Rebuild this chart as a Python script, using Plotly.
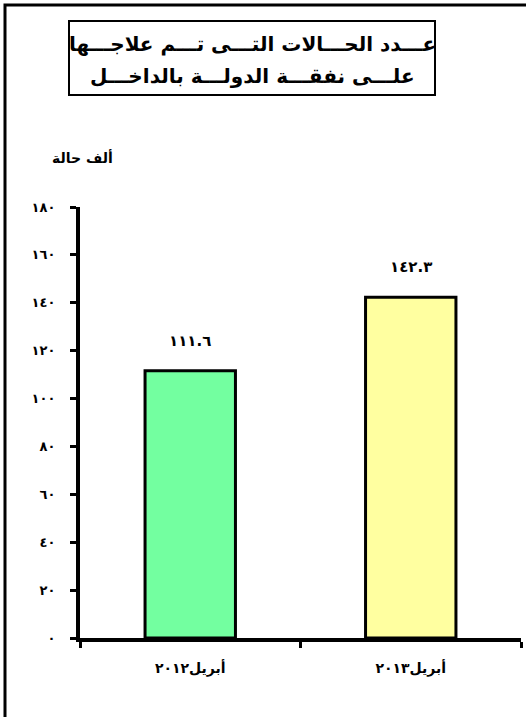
import plotly.graph_objects as go

# Data
categories = ["أبريل٢٠١٢", "أبريل٢٠١٣"]
values = [111.6, 142.3]
value_labels = ["١١١.٦", "١٤٢.٣"]
bar_colors = ["#73FFA0", "#FFFFA0"]
tick_vals = [0, 20, 40, 60, 80, 100, 120, 140, 160, 180]
tick_text = ["٠", "٢٠", "٤٠", "٦٠", "٨٠", "١٠٠", "١٢٠", "١٤٠", "١٦٠", "١٨٠"]
title_lines = ["عـــدد الحـــالات التـــى تـــم علاجـــها",
               "علـــى نفقـــة الدولـــة بالداخـــل"]
y_unit = "ألف حالة"

W, H = 526, 717
L, R, T, B = 80, 5, 207, 79
pw, ph = W - L - R, H - T - B


def px(x):
    return (x - L) / pw


def py(y):
    return (H - B - y) / ph


fig = go.Figure()
fig.add_trace(go.Bar(
    x=categories,
    y=values,
    width=0.41,
    marker=dict(color=bar_colors, line=dict(color="black", width=3)),
    hoverinfo="skip",
))

# value labels above bars
for c, v, t in zip(categories, values, value_labels):
    fig.add_annotation(x=c, y=v, text=t, showarrow=False, yanchor="bottom",
                       yshift=19, font=dict(family="DejaVu Sans", size=15,
                                            color="black", weight="bold"))

# outer frame
fig.add_shape(type="rect", xref="paper", yref="paper",
              x0=px(5), x1=px(540), y0=py(740), y1=py(5),
              line=dict(color="black", width=3), layer="below")
# title box
fig.add_shape(type="rect", xref="paper", yref="paper",
              x0=px(69), x1=px(435), y0=py(95), y1=py(21),
              line=dict(color="black", width=2))
fig.add_annotation(xref="paper", yref="paper", x=px(252), y=py(30),
                   text=title_lines[0], showarrow=False,
                   font=dict(family="DejaVu Sans", size=20, color="black",
                             weight="bold"))
fig.add_annotation(xref="paper", yref="paper", x=px(252), y=py(62),
                   text=title_lines[1], showarrow=False,
                   font=dict(family="DejaVu Sans", size=20, color="black",
                             weight="bold"))
fig.add_annotation(xref="paper", yref="paper", x=px(50), y=py(147),
                   text=y_unit, showarrow=False,
                   font=dict(family="DejaVu Sans", size=14, color="black",
                             weight="bold"))

fig.update_layout(
    width=W, height=H,
    margin=dict(l=L, r=R, t=T, b=B),
    paper_bgcolor="white",
    plot_bgcolor="white",
    showlegend=False,
    xaxis=dict(
        range=[-0.5, 1.5],
        showline=True, linecolor="black", linewidth=4,
        ticks="outside", tickson="boundaries", ticklen=6, tickwidth=3,
        tickcolor="black",
        ticklabelstandoff=14,
        tickfont=dict(family="DejaVu Sans", size=14, color="black",
                      weight="bold"),
        showgrid=False, zeroline=False,
    ),
    yaxis=dict(
        range=[0, 180],
        tickvals=tick_vals, ticktext=tick_text,
        showline=True, linecolor="black", linewidth=4,
        ticks="outside", ticklen=6, tickwidth=3, tickcolor="black",
        ticklabelstandoff=12,
        tickfont=dict(family="DejaVu Sans", size=13, color="black",
                      weight="bold"),
        showgrid=False, zeroline=False,
    ),
)

fig.write_html("out.html", config={"displayModeBar": False},
               post_script="document.body.style.margin='0';")
